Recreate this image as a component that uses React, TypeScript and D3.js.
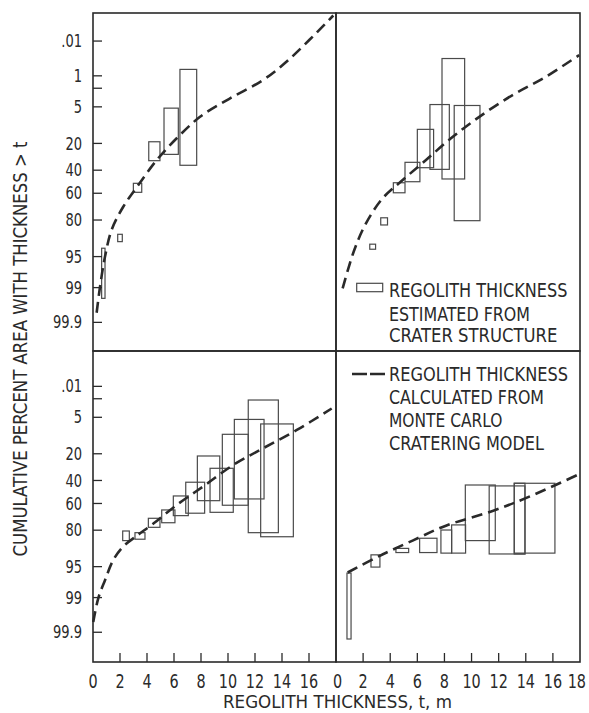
import React from 'react';
import * as d3 from 'd3';

const W = 589;
const H = 713;
const FONT = "'Liberation Sans Narrow', 'DejaVu Sans Condensed', 'Roboto Condensed', sans-serif";
const INK = '#2a2a2a';

// probability-scale ticks (cumulative percent area with thickness > t)
const topTicks = [0.1, 1, 2, 5, 20, 40, 60, 80, 95, 99, 99.9];
const topTickLabels = ['.01', '1', '', '5', '20', '40', '60', '80', '95', '99', '99.9'];
const bottomTicks = [1, 2, 5, 20, 40, 60, 80, 95, 99, 99.9];
const bottomTickLabels = ['.01', '', '5', '20', '40', '60', '80', '95', '99', '99.9'];
const topPctRange = [0.0105, 99.99];
const bottomPctRange = [0.095, 99.991];

// regolith thickness, m
const xTicks = [2, 4, 6, 8, 10, 12, 14, 16];
const xLabelsLeft = [0, 2, 4, 6, 8, 10, 12, 14, 16];
const xLabelsRight = [0, 2, 4, 6, 8, 10, 12, 14, 16, 18];

// boxes estimated from crater structure: [t from, t to, pct top, pct bottom]
const boxesTL = [
  [0.64, 0.89, 92.8, 99.48],
  [1.83, 2.17, 87.6, 90.6],
  [2.99, 3.61, 51.4, 59.2],
  [4.13, 4.96, 19, 32.2],
  [5.26, 6.32, 5.3, 27.4],
  [6.44, 7.68, 0.68, 35.9],
];
const boxesTR = [
  [2.49, 2.92, 91.5, 93.1],
  [3.3, 3.8, 78.6, 82.9],
  [4.23, 5.09, 50.9, 59.6],
  [5.09, 6.19, 33.5, 50],
  [6.0, 7.2, 12.5, 37.9],
  [6.93, 8.36, 4.5, 39.3],
  [7.82, 9.49, 0.34, 47.6],
  [8.72, 10.62, 4.7, 80.4],
];
const boxesBL = [
  [2.2, 2.69, 80.5, 85.8],
  [3.11, 3.85, 81.5, 85.1],
  [4.1, 4.96, 71.9, 78.2],
  [5.09, 6.07, 65.4, 75.1],
  [5.95, 7.06, 53.5, 69.9],
  [6.87, 8.27, 41.5, 68],
  [7.73, 9.39, 21.4, 57.6],
  [8.67, 10.39, 30.1, 67.3],
  [9.58, 11.5, 10.2, 61.5],
  [10.47, 12.67, 5.5, 56.1],
  [11.5, 13.73, 2.14, 81.5],
  [12.42, 14.84, 6.7, 83.8],
];
const boxesBR = [
  [0.81, 1.11, 96.3, 99.94],
  [2.58, 3.24, 91.7, 95.1],
  [4.42, 5.36, 89.3, 90.9],
  [6.17, 7.45, 84.6, 90.9],
  [7.74, 8.53, 79.9, 91.1],
  [8.53, 9.56, 76.6, 91.1],
  [9.54, 11.75, 43.9, 85.8],
  [11.3, 13.94, 44.7, 91.4],
  [13.15, 13.94, 42.4, 91.4],
  [13.15, 16.15, 42.4, 91.1],
];

// monte carlo model curves: [t, pct]
const curveTL = [
  [0.27, 99.8], [0.52, 98.95], [0.89, 95], [1.38, 85.5], [2.24, 70.9], [3.36, 52.9],
  [4.72, 31.7], [6.2, 17], [7.93, 7.7], [10.15, 3.35], [12.6, 1.27], [14.6, 0.34], [17.8, 0.013],
];
const curveTR = [
  [0.49, 99.04], [1.35, 93.3], [2.21, 82], [3.44, 64.2], [4.92, 48.5], [6.64, 31.7],
  [8.48, 17], [10.57, 7.7], [13.03, 2.84], [15.49, 1.05], [17.94, 0.27],
];
const curveBL = [
  [0.02, 99.79], [0.39, 99.04], [0.89, 97.4], [1.5, 93.3], [2.24, 88.5], [3.2, 83.5],
  [4.5, 75.5], [6.2, 61.3], [8.3, 44], [10.39, 27.6], [12.6, 16.8], [15.1, 8.6], [17.68, 3.3],
];
const curveBR = [
  [0.86, 96.2], [3.19, 92.1], [5.65, 85.8], [8.11, 77.1], [11.55, 66.2], [14.26, 54.1], [17.96, 34.6],
];

// inverse normal cdf (Acklam) for the probability axis
function probit(p: number) {
  const a = [-39.69683028665376, 220.9460984245205, -275.9285104469687, 138.357751867269, -30.66479806614716, 2.506628277459239];
  const b = [-54.47609879822406, 161.5858368580409, -155.6989798598866, 66.80131188771972, -13.28068155288572];
  const c = [-0.007784894002430293, -0.3223964580411365, -2.400758277161838, -2.549732539343734, 4.374664141464968, 2.938163982698783];
  const d = [0.007784695709041462, 0.3224671290700398, 2.445134137142996, 3.754408661907416];
  const pl = 0.02425;
  if (p < pl) {
    const q = Math.sqrt(-2 * Math.log(p));
    return (((((c[0] * q + c[1]) * q + c[2]) * q + c[3]) * q + c[4]) * q + c[5]) / ((((d[0] * q + d[1]) * q + d[2]) * q + d[3]) * q + 1);
  }
  if (p > 1 - pl) {
    const q = Math.sqrt(-2 * Math.log(1 - p));
    return -(((((c[0] * q + c[1]) * q + c[2]) * q + c[3]) * q + c[4]) * q + c[5]) / ((((d[0] * q + d[1]) * q + d[2]) * q + d[3]) * q + 1);
  }
  const q = p - 0.5;
  const r = q * q;
  return (((((a[0] * r + a[1]) * r + a[2]) * r + a[3]) * r + a[4]) * r + a[5]) * q / (((((b[0] * r + b[1]) * r + b[2]) * r + b[3]) * r + b[4]) * r + 1);
}

// condensed width of a numeric label
const labelWidth = (s: string, digit: number) =>
  s.split('').reduce((w, ch) => w + (ch === '.' ? digit * 0.5 : digit), 0);

const panels = [
  { x0: 93, x1: 336, y0: 13, y1: 351, range: topPctRange, boxes: boxesTL, curve: curveTL, yTicks: topTicks, yLabels: topTickLabels, xLabels: null },
  { x0: 336, x1: 580, y0: 13, y1: 351, range: topPctRange, boxes: boxesTR, curve: curveTR, yTicks: null, yLabels: null, xLabels: null },
  { x0: 93, x1: 336, y0: 351, y1: 662, range: bottomPctRange, boxes: boxesBL, curve: curveBL, yTicks: bottomTicks, yLabels: bottomTickLabels, xLabels: xLabelsLeft },
  { x0: 336, x1: 580, y0: 351, y1: 662, range: bottomPctRange, boxes: boxesBR, curve: curveBR, yTicks: null, yLabels: null, xLabels: xLabelsRight },
];

function Panel({ p }: { p: any }) {
  const x = d3.scaleLinear().domain([0, 18]).range([p.x0, p.x1]);
  const z = d3.scaleLinear().domain([probit(p.range[0] / 100), probit(p.range[1] / 100)]).range([p.y0, p.y1]);
  const y = (pct: number) => z(probit(pct / 100));
  const line = d3.line<number[]>()
    .x(d => x(d[0]))
    .y(d => y(d[1]))
    .curve(d3.curveCatmullRom.alpha(0.5));

  return (
    <g>
      {p.boxes.map((b: number[], i: number) => (
        <rect key={i} x={x(b[0])} y={y(b[2])} width={x(b[1]) - x(b[0])} height={y(b[3]) - y(b[2])}
          fill="none" stroke="#4a4a4a" strokeWidth={1.2} />
      ))}
      <path d={line(p.curve) || ''} fill="none" stroke={INK} strokeWidth={2.6} strokeDasharray="11,6" />
      {p.yTicks && p.yTicks.map((t: number, i: number) => (
        <g key={t}>
          <line x1={p.x0} x2={p.x0 + 9} y1={y(t)} y2={y(t)} stroke={INK} strokeWidth={1.3} />
          {p.yLabels[i] && (
            <text x={82} y={y(t)} dy="0.36em" textAnchor="end" fontSize={17} fill={INK}
              textLength={labelWidth(p.yLabels[i], 8.3)} lengthAdjust="spacingAndGlyphs">{p.yLabels[i]}</text>
          )}
        </g>
      ))}
      {p.xLabels && xTicks.map(t => (
        <line key={t} x1={x(t)} x2={x(t)} y1={p.y1} y2={p.y1 - 9} stroke={INK} strokeWidth={1.3} />
      ))}
      {p.xLabels && p.xLabels.map((t: number) => {
        const last = t === 18;
        const lx = last ? 586 : x(t) + (t === 0 && p.x0 > 100 ? 1.5 : 0);
        return (
          <text key={t} transform={`translate(${lx},688) scale(0.8,1)`}
            textAnchor={last ? 'end' : 'middle'} fontSize={20} fill={INK}>{t}</text>
        );
      })}
      <rect x={p.x0} y={p.y0} width={p.x1 - p.x0} height={p.y1 - p.y0} fill="none" stroke={INK} strokeWidth={1.6} />
    </g>
  );
}

export default function App() {
  return (
    <svg width={W} height={H} style={{ position: 'absolute', left: 0, top: 0, background: '#fff' }} fontFamily={FONT}>
      <rect width={W} height={H} fill="#fff" />
      {panels.map((p, i) => <Panel key={i} p={p} />)}

      {/* legend: boxes */}
      <rect x={356.7} y={283.3} width={26} height={8.4} fill="none" stroke="#4a4a4a" strokeWidth={1.2} />
      <g fontSize={19} fill={INK}>
        <text x={389} y={297.3} textLength={178.4} lengthAdjust="spacingAndGlyphs">REGOLITH THICKNESS</text>
        <text x={389} y={320.5} textLength={141} lengthAdjust="spacingAndGlyphs">ESTIMATED FROM</text>
        <text x={389} y={342.3} textLength={168.4} lengthAdjust="spacingAndGlyphs">CRATER STRUCTURE</text>
      </g>

      {/* legend: model curve */}
      <line x1={352} x2={386} y1={374} y2={374} stroke={INK} strokeWidth={2.6} strokeDasharray="15,3" />
      <g fontSize={19} fill={INK}>
        <text x={389} y={380.7} textLength={179} lengthAdjust="spacingAndGlyphs">REGOLITH THICKNESS</text>
        <text x={389} y={404.3} textLength={155} lengthAdjust="spacingAndGlyphs">CALCULATED FROM</text>
        <text x={389} y={427.3} textLength={113.4} lengthAdjust="spacingAndGlyphs">MONTE CARLO</text>
        <text x={389} y={450} textLength={155} lengthAdjust="spacingAndGlyphs">CRATERING MODEL</text>
      </g>

      <text x={337.5} y={708} textAnchor="middle" fontSize={18.5} fill={INK} textLength={229} lengthAdjust="spacingAndGlyphs">
        REGOLITH THICKNESS, t, m
      </text>
      <text transform="translate(27,349) rotate(-90)" textAnchor="middle" fontSize={19} fill={INK} textLength={415} lengthAdjust="spacingAndGlyphs">
        CUMULATIVE PERCENT AREA WITH THICKNESS &gt; t
      </text>
    </svg>
  );
}
